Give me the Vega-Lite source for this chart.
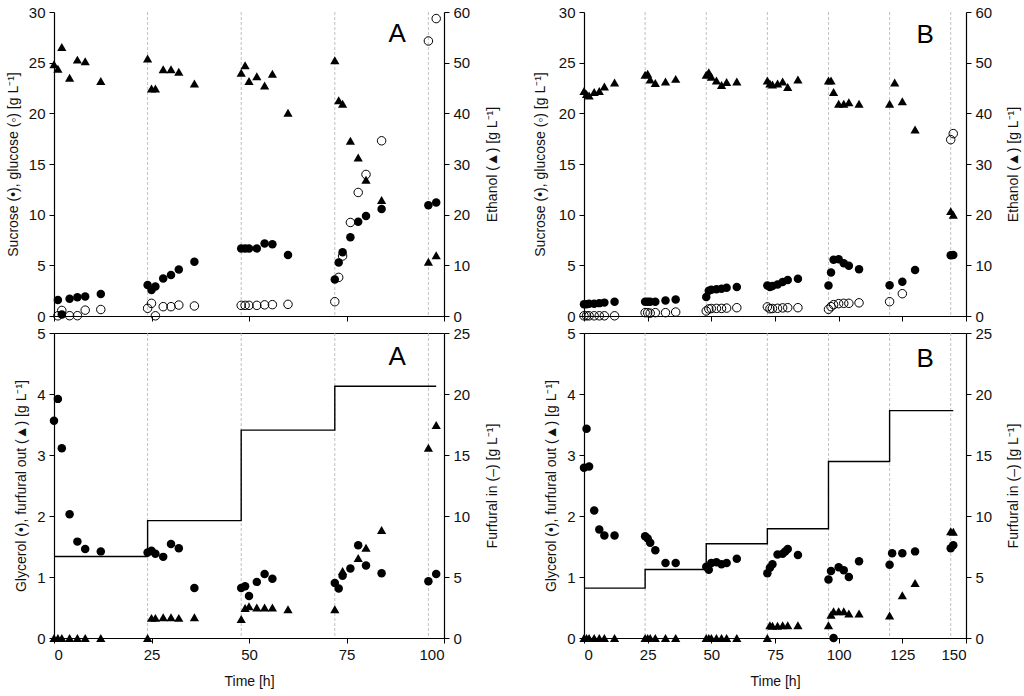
{
"$schema": "https://vega.github.io/schema/vega-lite/v6.json",
"background": "white",
"padding": {"left": 6, "top": 5, "right": 1, "bottom": 3},
"columns": 2,
"bounds": "flush",
"spacing": {"row": 17, "column": 140},
"datasets": {
"vA": [{"t":24},{"t":48},{"t":72},{"t":96}],
"vB": [{"t":24},{"t":48},{"t":72},{"t":96},{"t":120},{"t":144}],
"sucA": [{"t":1,"v":1.58},{"t":2,"v":0.15},{"t":4,"v":1.7},{"t":6,"v":1.85},{"t":8,"v":1.92},{"t":12,"v":2.17},
{"t":24,"v":3.06},{"t":25,"v":2.56},{"t":26,"v":2.9},{"t":28,"v":3.71},{"t":30,"v":4.04},{"t":32,"v":4.6},{"t":36,"v":5.36},
{"t":48,"v":6.67},{"t":49,"v":6.67},{"t":50,"v":6.67},{"t":52,"v":6.67},{"t":54,"v":7.16},{"t":56,"v":7.07},{"t":60,"v":6.01},
{"t":72,"v":3.61},{"t":73,"v":5.29},{"t":74,"v":6.28},{"t":76,"v":7.76},{"t":78,"v":9.3},{"t":80,"v":9.86},{"t":84,"v":10.55},
{"t":96,"v":10.94},{"t":98,"v":11.2}],
"gluA": [{"t":1,"v":0.02},{"t":2,"v":0.55},{"t":4,"v":0.03},{"t":6,"v":0.03},{"t":8,"v":0.58},{"t":12,"v":0.64},
{"t":24,"v":0.76},{"t":25,"v":1.25},{"t":26,"v":0.02},{"t":28,"v":0.92},{"t":30,"v":0.92},{"t":32,"v":1.08},{"t":36,"v":0.99},
{"t":48,"v":1.05},{"t":49,"v":1.05},{"t":50,"v":1.05},{"t":52,"v":1.05},{"t":54,"v":1.1},{"t":56,"v":1.12},{"t":60,"v":1.15},
{"t":72,"v":1.41},{"t":73,"v":3.81},{"t":74,"v":5.92},{"t":76,"v":9.23},{"t":78,"v":12.19},{"t":80,"v":13.97},{"t":84,"v":17.29},
{"t":96,"v":27.14},{"t":98,"v":29.35}],
"ethA": [{"t":0,"v":49.7},{"t":1,"v":48.8},{"t":2,"v":53.1},{"t":4,"v":47.0},{"t":6,"v":50.6},{"t":8,"v":50.3},{"t":12,"v":46.4},
{"t":24,"v":50.8},{"t":25,"v":44.9},{"t":26,"v":44.9},{"t":28,"v":48.7},{"t":30,"v":48.7},{"t":32,"v":48.2},{"t":36,"v":45.9},
{"t":48,"v":48.0},{"t":49,"v":49.5},{"t":50,"v":46.4},{"t":52,"v":47.3},{"t":54,"v":45.5},{"t":56,"v":47.8},{"t":60,"v":40.1},
{"t":72,"v":50.5},{"t":73,"v":42.6},{"t":74,"v":41.9},{"t":76,"v":34.6},{"t":78,"v":31.3},{"t":80,"v":26.9},{"t":84,"v":22.9},
{"t":96,"v":10.7},{"t":98,"v":12.0}],
"glyA": [{"t":0,"v":3.56},{"t":1,"v":3.92},{"t":2,"v":3.11},{"t":4,"v":2.03},{"t":6,"v":1.58},{"t":8,"v":1.46},{"t":12,"v":1.42},
{"t":24,"v":1.40},{"t":25,"v":1.43},{"t":26,"v":1.38},{"t":28,"v":1.33},{"t":30,"v":1.54},{"t":32,"v":1.47},{"t":36,"v":0.82},
{"t":48,"v":0.82},{"t":49,"v":0.85},{"t":50,"v":0.69},{"t":52,"v":0.92},{"t":54,"v":1.05},{"t":56,"v":0.97},
{"t":72,"v":0.90},{"t":73,"v":0.81},{"t":74,"v":1.02},{"t":76,"v":1.14},{"t":78,"v":1.52},{"t":80,"v":1.19},{"t":84,"v":1.06},
{"t":96,"v":0.93},{"t":98,"v":1.05}],
"furA": [{"t":0,"v":0},{"t":1,"v":0},{"t":2,"v":0},{"t":4,"v":0},{"t":6,"v":0},{"t":8,"v":0},{"t":12,"v":0},
{"t":24,"v":0},{"t":25,"v":0.33},{"t":26,"v":0.33},{"t":28,"v":0.34},{"t":30,"v":0.34},{"t":32,"v":0.33},{"t":36,"v":0.34},
{"t":48,"v":0.31},{"t":49,"v":0.49},{"t":50,"v":0.52},{"t":52,"v":0.5},{"t":54,"v":0.5},{"t":56,"v":0.5},{"t":60,"v":0.47},
{"t":72,"v":0.47},{"t":74,"v":1.10},{"t":78,"v":1.31},{"t":80,"v":1.48},{"t":84,"v":1.77},
{"t":96,"v":3.12},{"t":98,"v":3.49}],
"stepA": [{"t":0,"v":6.68},{"t":24,"v":9.62},{"t":48,"v":17.04},{"t":72,"v":20.64},{"t":98,"v":20.64}],
"sucB": [{"t":0,"v":1.15},{"t":1,"v":1.15},{"t":2,"v":1.2},{"t":4,"v":1.22},{"t":6,"v":1.27},{"t":8,"v":1.32},{"t":12,"v":1.41},
{"t":24,"v":1.4},{"t":25,"v":1.4},{"t":26,"v":1.4},{"t":28,"v":1.4},{"t":32,"v":1.53},{"t":36,"v":1.62},
{"t":48,"v":1.87},{"t":49,"v":2.5},{"t":50,"v":2.6},{"t":52,"v":2.65},{"t":54,"v":2.7},{"t":56,"v":2.78},{"t":60,"v":2.86},
{"t":72,"v":3.0},{"t":73,"v":2.85},{"t":74,"v":2.95},{"t":76,"v":3.12},{"t":78,"v":3.35},{"t":80,"v":3.55},{"t":84,"v":3.68},
{"t":96,"v":3.02},{"t":97,"v":4.3},{"t":98,"v":5.55},{"t":100,"v":5.6},{"t":102,"v":5.2},{"t":104,"v":4.95},{"t":108,"v":4.62},
{"t":120,"v":3.03},{"t":125,"v":3.39},{"t":130,"v":4.54},{"t":144,"v":6.0},{"t":145,"v":6.02}],
"gluB": [{"t":0,"v":0.02},{"t":1,"v":0.02},{"t":2,"v":0.02},{"t":4,"v":0.02},{"t":6,"v":0.02},{"t":8,"v":0.02},{"t":12,"v":0.02},
{"t":24,"v":0.33},{"t":25,"v":0.33},{"t":26,"v":0.28},{"t":28,"v":0.33},{"t":32,"v":0.33},{"t":36,"v":0.39},
{"t":48,"v":0.49},{"t":49,"v":0.7},{"t":50,"v":0.74},{"t":52,"v":0.75},{"t":54,"v":0.75},{"t":56,"v":0.78},{"t":60,"v":0.82},
{"t":72,"v":0.9},{"t":73,"v":0.72},{"t":74,"v":0.74},{"t":76,"v":0.76},{"t":78,"v":0.8},{"t":80,"v":0.82},{"t":84,"v":0.82},
{"t":96,"v":0.66},{"t":97,"v":0.92},{"t":98,"v":1.12},{"t":100,"v":1.22},{"t":102,"v":1.25},{"t":104,"v":1.25},{"t":108,"v":1.3},
{"t":120,"v":1.41},{"t":125,"v":2.2},{"t":144,"v":17.4},{"t":145,"v":18.0}],
"ethB": [{"t":0,"v":44.4},{"t":1,"v":43.8},{"t":2,"v":43.5},{"t":4,"v":44.2},{"t":6,"v":44.4},{"t":8,"v":45.3},{"t":12,"v":46.1},
{"t":24,"v":47.6},{"t":25,"v":47.8},{"t":26,"v":46.7},{"t":28,"v":46.0},{"t":32,"v":46.3},{"t":36,"v":46.8},
{"t":48,"v":47.6},{"t":49,"v":48.1},{"t":50,"v":47.2},{"t":52,"v":46.5},{"t":54,"v":45.6},{"t":56,"v":46.2},{"t":60,"v":46.3},
{"t":72,"v":46.5},{"t":73,"v":45.9},{"t":74,"v":45.7},{"t":76,"v":45.9},{"t":78,"v":46.3},{"t":80,"v":45.2},{"t":84,"v":46.7},
{"t":96,"v":46.5},{"t":97,"v":46.5},{"t":98,"v":44.2},{"t":100,"v":41.9},{"t":102,"v":41.9},{"t":104,"v":42.2},{"t":108,"v":41.9},
{"t":120,"v":41.9},{"t":122,"v":46.1},{"t":125,"v":42.4},{"t":130,"v":36.8},{"t":144,"v":20.7},{"t":145,"v":20.0}],
"glyB": [{"t":0,"v":2.79},{"t":1,"v":3.43},{"t":2,"v":2.81},{"t":4,"v":2.09},{"t":6,"v":1.78},{"t":8,"v":1.68},{"t":12,"v":1.68},
{"t":24,"v":1.67},{"t":25,"v":1.63},{"t":26,"v":1.56},{"t":28,"v":1.44},{"t":32,"v":1.23},{"t":36,"v":1.23},
{"t":48,"v":1.17},{"t":49,"v":1.12},{"t":50,"v":1.23},{"t":52,"v":1.24},{"t":54,"v":1.21},{"t":56,"v":1.23},{"t":60,"v":1.30},
{"t":72,"v":1.06},{"t":73,"v":1.15},{"t":74,"v":1.21},{"t":76,"v":1.37},{"t":78,"v":1.38},{"t":79,"v":1.42},{"t":80,"v":1.46},{"t":84,"v":1.36},
{"t":96,"v":0.96},{"t":97,"v":1.10},{"t":98,"v":0.0},{"t":100,"v":1.16},{"t":102,"v":1.11},{"t":104,"v":1.0},{"t":108,"v":1.26},
{"t":120,"v":1.20},{"t":121,"v":1.39},{"t":125,"v":1.39},{"t":130,"v":1.42},{"t":144,"v":1.47},{"t":145,"v":1.52}],
"furB": [{"t":0,"v":0},{"t":1,"v":0},{"t":2,"v":0},{"t":4,"v":0},{"t":6,"v":0},{"t":8,"v":0},{"t":12,"v":0},
{"t":24,"v":0},{"t":25,"v":0},{"t":26,"v":0},{"t":28,"v":0},{"t":32,"v":0},{"t":36,"v":0},
{"t":48,"v":0},{"t":49,"v":0},{"t":50,"v":0},{"t":52,"v":0},{"t":54,"v":0},{"t":56,"v":0},{"t":60,"v":0},
{"t":72,"v":0},{"t":73,"v":0.21},{"t":74,"v":0.2},{"t":76,"v":0.2},{"t":78,"v":0.21},{"t":80,"v":0.21},{"t":84,"v":0.21},
{"t":96,"v":0.21},{"t":97,"v":0.38},{"t":98,"v":0.44},{"t":100,"v":0.44},{"t":102,"v":0.44},{"t":104,"v":0.4},{"t":108,"v":0.4},
{"t":120,"v":0.37},{"t":125,"v":0.7},{"t":130,"v":0.9},{"t":144,"v":1.75},{"t":145,"v":1.74}],
"stepB": [{"t":0,"v":4.09},{"t":24,"v":5.62},{"t":48,"v":7.72},{"t":72,"v":8.95},{"t":96,"v":14.47},{"t":120,"v":18.64},{"t":145,"v":18.64}]
},
"concat": [
{
"width": 390, "height": 304,
"encoding": {"x": {"field": "t", "type": "quantitative", "scale": {"domain": [0, 100]}, "axis": {"values": [0,25,50,75,100], "labels": false, "title": null}}},
"layer": [
{"data": {"name": "vA"}, "mark": {"type": "rule", "color": "#b0b0b0", "strokeWidth": 0.8, "strokeDash": [3, 2]}},
{"encoding": {"y": {"field": "v", "type": "quantitative", "scale": {"domain": [0, 30]}, "axis": {"orient": "left", "values": [0,5,10,15,20,25,30], "title": "Sucrose (•), glucose (◦) [g L⁻¹]"}}},
 "layer": [
 {"data": {"name": "sucA"}, "mark": {"type": "point", "shape": "circle", "filled": true, "color": "black", "opacity": 1, "size": 72}},
 {"data": {"name": "gluA"}, "mark": {"type": "point", "shape": "circle", "filled": false, "color": "black", "opacity": 1, "size": 72, "strokeWidth": 1}},
 {"data": {"values": [{"t": 88, "v": 27.8, "label": "A"}]}, "mark": {"type": "text", "fontSize": 26, "align": "center", "baseline": "middle", "color": "black"}, "encoding": {"text": {"field": "label"}}}
 ]},
{"data": {"name": "ethA"}, "mark": {"type": "point", "shape": "triangle-up", "filled": true, "color": "black", "opacity": 1, "size": 85},
 "encoding": {"y": {"field": "v", "type": "quantitative", "scale": {"domain": [0, 60]}, "axis": {"orient": "right", "values": [0,10,20,30,40,50,60], "title": "Ethanol (▲) [g L⁻¹]", "titleAngle": 270, "titleBaseline": "top", "titlePadding": 16}}}}
],
"resolve": {"scale": {"y": "independent"}}
},
{
"width": 382, "height": 304,
"encoding": {"x": {"field": "t", "type": "quantitative", "scale": {"domain": [0, 150]}, "axis": {"values": [0,25,50,75,100,125,150], "labels": false, "title": null}}},
"layer": [
{"data": {"name": "vB"}, "mark": {"type": "rule", "color": "#b0b0b0", "strokeWidth": 0.8, "strokeDash": [3, 2]}},
{"encoding": {"y": {"field": "v", "type": "quantitative", "scale": {"domain": [0, 30]}, "axis": {"orient": "left", "values": [0,5,10,15,20,25,30], "title": "Sucrose (•), glucose (◦) [g L⁻¹]", "titlePadding": 11}}},
 "layer": [
 {"data": {"name": "sucB"}, "mark": {"type": "point", "shape": "circle", "filled": true, "color": "black", "opacity": 1, "size": 72}},
 {"data": {"name": "gluB"}, "mark": {"type": "point", "shape": "circle", "filled": false, "color": "black", "opacity": 1, "size": 72, "strokeWidth": 1}},
 {"data": {"values": [{"t": 134, "v": 27.7, "label": "B"}]}, "mark": {"type": "text", "fontSize": 26, "align": "center", "baseline": "middle", "color": "black"}, "encoding": {"text": {"field": "label"}}}
 ]},
{"data": {"name": "ethB"}, "mark": {"type": "point", "shape": "triangle-up", "filled": true, "color": "black", "opacity": 1, "size": 85},
 "encoding": {"y": {"field": "v", "type": "quantitative", "scale": {"domain": [0, 60]}, "axis": {"orient": "right", "values": [0,10,20,30,40,50,60], "title": "Ethanol (▲) [g L⁻¹]", "titleAngle": 270, "titleBaseline": "top", "titlePadding": 15}}}}
],
"resolve": {"scale": {"y": "independent"}}
},
{
"width": 390, "height": 305,
"view": {"stroke": "black", "strokeWidth": 1},
"encoding": {"x": {"field": "t", "type": "quantitative", "scale": {"domain": [0, 100]}, "axis": {"values": [0,25,50,75,100], "title": "Time [h]", "titlePadding": 12}}},
"layer": [
{"data": {"name": "vA"}, "mark": {"type": "rule", "color": "#b0b0b0", "strokeWidth": 0.8, "strokeDash": [3, 2]}},
{"encoding": {"y": {"field": "v", "type": "quantitative", "scale": {"domain": [0, 5]}, "axis": {"orient": "left", "values": [0,1,2,3,4,5], "title": "Glycerol (•), furfural out (▲) [g L⁻¹]"}}},
 "layer": [
 {"data": {"name": "glyA"}, "mark": {"type": "point", "shape": "circle", "filled": true, "color": "black", "opacity": 1, "size": 72}},
 {"data": {"name": "furA"}, "mark": {"type": "point", "shape": "triangle-up", "filled": true, "color": "black", "opacity": 1, "size": 85}},
 {"data": {"values": [{"t": 88, "v": 4.61, "label": "A"}]}, "mark": {"type": "text", "fontSize": 26, "align": "center", "baseline": "middle", "color": "black"}, "encoding": {"text": {"field": "label"}}}
 ]},
{"data": {"name": "stepA"}, "mark": {"type": "line", "interpolate": "step-after", "color": "black", "strokeWidth": 1.4},
 "encoding": {"y": {"field": "v", "type": "quantitative", "scale": {"domain": [0, 25]}, "axis": {"orient": "right", "values": [0,5,10,15,20,25], "title": "Furfural in (–) [g L⁻¹]", "titleAngle": 270, "titleBaseline": "top", "titlePadding": 16}}}}
],
"resolve": {"scale": {"y": "independent"}}
},
{
"width": 382, "height": 305,
"view": {"stroke": "black", "strokeWidth": 1},
"encoding": {"x": {"field": "t", "type": "quantitative", "scale": {"domain": [0, 150]}, "axis": {"values": [0,25,50,75,100,125,150], "title": "Time [h]", "titlePadding": 12}}},
"layer": [
{"data": {"name": "vB"}, "mark": {"type": "rule", "color": "#b0b0b0", "strokeWidth": 0.8, "strokeDash": [3, 2]}},
{"encoding": {"y": {"field": "v", "type": "quantitative", "scale": {"domain": [0, 5]}, "axis": {"orient": "left", "values": [0,1,2,3,4,5], "title": "Glycerol (•), furfural out (▲) [g L⁻¹]"}}},
 "layer": [
 {"data": {"name": "glyB"}, "mark": {"type": "point", "shape": "circle", "filled": true, "color": "black", "opacity": 1, "size": 72}},
 {"data": {"name": "furB"}, "mark": {"type": "point", "shape": "triangle-up", "filled": true, "color": "black", "opacity": 1, "size": 85}},
 {"data": {"values": [{"t": 134, "v": 4.58, "label": "B"}]}, "mark": {"type": "text", "fontSize": 26, "align": "center", "baseline": "middle", "color": "black"}, "encoding": {"text": {"field": "label"}}}
 ]},
{"data": {"name": "stepB"}, "mark": {"type": "line", "interpolate": "step-after", "color": "black", "strokeWidth": 1.4},
 "encoding": {"y": {"field": "v", "type": "quantitative", "scale": {"domain": [0, 25]}, "axis": {"orient": "right", "values": [0,5,10,15,20,25], "title": "Furfural in (–) [g L⁻¹]", "titleAngle": 270, "titleBaseline": "top", "titlePadding": 15}}}}
],
"resolve": {"scale": {"y": "independent"}}
}
],
"config": {
"font": "Liberation Sans",
"view": {"stroke": null},
"axis": {"labelFont": "Liberation Sans", "labelFontSize": 15, "labelColor": "#111", "titleFont": "Liberation Sans", "titleFontSize": 14, "titleFontWeight": "normal", "titleColor": "#111", "domainColor": "black", "domainWidth": 1.2, "tickColor": "black", "tickWidth": 1, "tickSize": 5, "labelPadding": 4, "grid": false, "titlePadding": 8}
}
}
